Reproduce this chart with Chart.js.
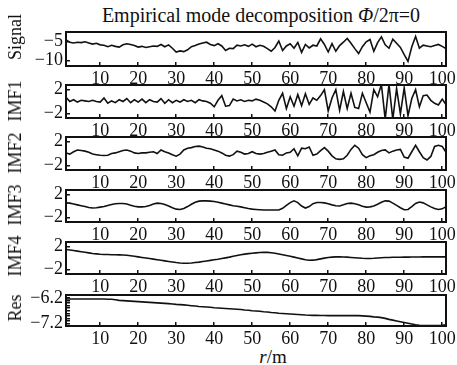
<!DOCTYPE html>
<html><head><meta charset="utf-8">
<script src="https://cdn.jsdelivr.net/npm/chart.js@4"></script>
<style>
body{margin:0;background:#fff;}
#wrap{position:relative;width:457px;height:365px;overflow:hidden;background:#fff;font-family:"Liberation Serif",serif;color:#111;}
canvas.p{position:absolute;left:0;}
.lbl{position:absolute;white-space:nowrap;transform:translate(-50%,-50%);line-height:1;}
.rot{transform:translate(-50%,-50%) rotate(-90deg);}
</style></head>
<body><div id="wrap">
<div class="lbl" id="title" style="left:261px;top:15px;font-size:20px;">Empirical mode decomposition <i>Φ</i>/2π=0</div>
<div class="lbl" style="left:273px;top:356px;font-size:19px;"><i>r</i>/m</div>
</div>
<script>
const rPositions = [1,2,3,4,5,6,7,8,9,10,11,12,13,14,15,16,17,18,19,20,21,22,23,24,25,26,27,28,29,30,31,32,33,34,35,36,37,38,39,40,41,42,43,44,45,46,47,48,49,50,51,52,53,54,55,56,57,58,59,60,61,62,63,64,65,66,67,68,69,70,71,72,73,74,75,76,77,78,79,80,81,82,83,84,85,86,87,88,89,90,91,92,93,94,95,96,97,98,99,100,101];
const xTicks = [10,20,30,40,50,60,70,80,90,100];
const panelNames = ["Signal","IMF1","IMF2","IMF3","IMF4","Res"];

const signal = [-4.6,-5.2,-5.4,-5.2,-5.3,-5.1,-5.4,-5.7,-5.5,-5.9,-6.0,-6.4,-6.0,-6.3,-6.5,-5.9,-5.6,-5.8,-6.1,-6.5,-6.3,-6.6,-6.4,-6.2,-6.3,-5.8,-6.4,-5.9,-6.8,-7.8,-7.5,-7.7,-7.2,-6.4,-6.1,-5.7,-5.4,-5.2,-5.8,-6.1,-5.6,-6.2,-7.4,-6.8,-6.9,-6.0,-6.2,-5.9,-6.3,-5.7,-6.4,-6.0,-6.3,-6.9,-7.6,-6.6,-4.9,-7.4,-6.2,-5.6,-6.8,-5.3,-7.9,-5.8,-6.7,-6.0,-6.2,-4.3,-5.8,-7.8,-5.6,-7.6,-6.1,-5.2,-4.2,-5.5,-6.9,-8.2,-6.4,-5.1,-4.5,-7.6,-5.3,-3.8,-5.9,-6.8,-4.4,-5.5,-6.6,-8.5,-10.3,-6.4,-3.7,-6.8,-6.0,-6.2,-6.4,-6.1,-5.8,-6.3,-6.9];
const imf1 = [0.7,0.0,0.3,-0.1,0.2,0.1,0.0,0.2,0.0,-0.1,0.6,-0.3,0.1,-0.2,0.3,0.0,0.5,-0.2,0.3,-0.1,0.4,-0.2,0.3,0.0,-0.1,0.5,-0.3,0.3,-0.2,0.2,-0.1,0.3,0.0,0.2,-0.2,0.3,0.1,0.0,-0.3,-0.9,0.2,1.0,-0.8,-0.7,0.4,0.1,0.3,0.0,0.2,0.1,0.4,0.2,-0.1,-0.4,-0.9,-1.6,0.2,1.4,-1.2,0.8,-0.8,1.2,-0.7,1.3,-0.5,0.6,0.2,1.0,2.0,-1.6,0.6,2.0,-1.5,1.7,-1.2,1.4,-1.0,-1.2,1.4,-0.2,-1.8,2.0,0.8,2.9,-3.0,2.9,-3.0,2.2,-2.1,2.3,-2.4,0.5,2.0,-0.9,1.0,1.1,0.2,-0.3,-0.6,0.4,-0.5];
const imf2 = [0.1,-0.1,0.3,0.6,0.5,0.4,0.2,-0.1,-0.2,-0.3,-0.35,-0.3,0.0,0.1,0.3,0.5,0.6,0.4,0.1,0.0,0.1,0.1,0.2,0.3,0.0,0.6,0.3,0.1,-0.2,-0.45,-0.1,0.6,0.9,1.0,1.2,1.25,1.1,0.9,0.8,0.6,0.4,0.1,-0.3,-0.45,-0.2,0.4,0.2,-0.1,0.0,0.3,0.0,-0.1,0.0,0.2,0.4,0.6,-0.2,-0.3,0.1,0.2,0.8,-0.4,0.9,0.8,1.1,-0.3,-0.1,0.5,1.0,0.4,-0.4,-0.9,-1.0,-0.9,-0.3,0.7,1.4,0.9,-0.2,-0.7,-0.4,-0.2,0.2,0.5,0.6,0.1,0.4,0.6,0.7,-0.6,-0.8,0.3,1.4,0.3,-0.7,-1.1,-0.5,1.2,1.4,1.2,0.2];
const imf3 = [0.55,0.5,0.35,0.2,0.05,-0.1,-0.25,-0.35,-0.3,-0.2,-0.1,0.1,0.25,0.4,0.45,0.45,0.35,0.15,-0.05,-0.15,-0.15,-0.1,0.1,0.35,0.5,0.45,0.25,0.0,-0.3,-0.55,-0.6,-0.45,-0.1,0.3,0.65,0.85,0.9,0.9,0.85,0.8,0.65,0.5,0.35,0.2,0.05,-0.05,-0.15,-0.3,-0.45,-0.55,-0.6,-0.65,-0.7,-0.7,-0.7,-0.7,-0.7,-0.4,0.1,0.6,0.9,0.6,0.0,-0.35,-0.1,0.4,0.6,0.6,0.55,0.4,0.2,0.05,0.0,0.2,0.45,0.5,0.4,0.2,-0.05,-0.2,-0.15,0.0,0.3,0.65,0.9,0.85,0.5,0.1,-0.3,-0.65,-0.6,-0.1,0.45,0.7,0.55,0.2,-0.15,-0.45,-0.6,-0.5,-0.1];
const imf4 = [1.5,1.4,1.3,1.2,1.1,1.0,0.9,0.8,0.72,0.65,0.62,0.6,0.58,0.56,0.55,0.52,0.48,0.4,0.3,0.2,0.1,0.0,-0.1,-0.2,-0.3,-0.4,-0.5,-0.6,-0.7,-0.8,-0.88,-0.92,-0.92,-0.88,-0.8,-0.72,-0.62,-0.52,-0.42,-0.32,-0.22,-0.1,0.02,0.15,0.3,0.45,0.58,0.68,0.76,0.84,0.9,0.96,1.0,0.98,0.92,0.82,0.7,0.58,0.45,0.3,0.15,0.0,-0.15,-0.3,-0.4,-0.38,-0.28,-0.15,-0.02,0.08,0.15,0.2,0.2,0.18,0.15,0.1,0.05,0.0,-0.05,-0.08,-0.08,-0.05,0.0,0.05,0.08,0.1,0.12,0.13,0.14,0.15,0.16,0.17,0.18,0.18,0.19,0.19,0.2,0.2,0.2,0.2,0.2];
const residue = [-6.24,-6.24,-6.24,-6.24,-6.24,-6.24,-6.24,-6.24,-6.24,-6.24,-6.24,-6.245,-6.25,-6.27,-6.29,-6.30,-6.31,-6.32,-6.33,-6.34,-6.35,-6.36,-6.37,-6.38,-6.39,-6.40,-6.41,-6.42,-6.435,-6.45,-6.46,-6.47,-6.485,-6.50,-6.515,-6.53,-6.54,-6.55,-6.565,-6.58,-6.59,-6.60,-6.61,-6.62,-6.63,-6.64,-6.65,-6.67,-6.68,-6.70,-6.71,-6.72,-6.74,-6.75,-6.77,-6.78,-6.80,-6.81,-6.82,-6.83,-6.84,-6.85,-6.86,-6.87,-6.875,-6.88,-6.88,-6.885,-6.885,-6.89,-6.89,-6.89,-6.89,-6.89,-6.89,-6.89,-6.89,-6.89,-6.90,-6.91,-6.92,-6.94,-6.95,-6.97,-7.0,-7.04,-7.07,-7.10,-7.13,-7.16,-7.19,-7.22,-7.25,-7.27,-7.28,-7.28,-7.28,-7.28,-7.28,-7.275,-7.25];

const signalTicks = [-10,-5], signalTickLabels = ["\u221210","\u22125"];
const imfTicks = [-2,2], imfTickLabels = ["\u22122","2"];
const resTicks = [-7.2,-7.1,-7.0,-6.9,-6.8,-6.7,-6.6,-6.5,-6.4,-6.3,-6.2];
const resTickLabels = ["\u22127.2","","","","","","","","","","\u22126.2"];

const FONT = '"Liberation Serif", "Times New Roman", serif';
Chart.defaults.font.family = FONT;
const INK = '#111';
const wrap = document.getElementById('wrap');

const panels = [
  {name:panelNames[0], values:signal, min:-11.5, max:-2.5, ticks:signalTicks, labels:signalTickLabels, top:32, bottom:66, labelY:37},
  {name:panelNames[1], values:imf1, min:-2.8, max:2.8, ticks:imfTicks, labels:imfTickLabels, top:85, bottom:118, labelY:101},
  {name:panelNames[2], values:imf2, min:-2.8, max:2.8, ticks:imfTicks, labels:imfTickLabels, top:137, bottom:170, labelY:153},
  {name:panelNames[3], values:imf3, min:-2.8, max:2.8, ticks:imfTicks, labels:imfTickLabels, top:190, bottom:222, labelY:205},
  {name:panelNames[4], values:imf4, min:-2.8, max:2.8, ticks:imfTicks, labels:imfTickLabels, top:242, bottom:274, labelY:256},
  {name:panelNames[5], values:residue, min:-7.3, max:-6.08, ticks:resTicks, labels:resTickLabels, top:295, bottom:326, labelY:308}
];

const boxPlugin = {
  id:'box',
  afterDraw(chart){
    const a = chart.chartArea, ctx = chart.ctx;
    ctx.save();
    ctx.strokeStyle = INK; ctx.lineWidth = 2;
    ctx.strokeRect(a.left, a.top, a.right - a.left, a.bottom - a.top);
    ctx.restore();
  }
};

const charts = [];
panels.forEach(p => {
  const padTop = 14, xH = 28;
  const h = (p.bottom - p.top) + padTop + xH;
  const c = document.createElement('canvas');
  c.className = 'p';
  c.width = 457; c.height = h;
  c.style.top = (p.top - padTop) + 'px';
  c.style.width = '457px'; c.style.height = h + 'px';
  wrap.appendChild(c);

  const yl = document.createElement('div');
  yl.className = 'lbl rot';
  yl.style.left = '15px'; yl.style.top = p.labelY + 'px'; yl.style.fontSize = '18px';
  yl.textContent = p.name;
  wrap.appendChild(yl);

  charts.push(new Chart(c, {
    type:'line',
    data:{datasets:[{
      data:p.values.map((v,i)=>({x:rPositions[i], y:v})),
      borderColor:INK, borderWidth:1.6, pointRadius:0, tension:0, fill:false
    }]},
    options:{
      responsive:false, animation:false, events:[],
      layout:{padding:{top:padTop, right:11, left:0, bottom:0}},
      plugins:{legend:{display:false}, tooltip:{enabled:false}, title:{display:false}},
      scales:{
        x:{
          type:'linear', min:1, max:101,
          afterBuildTicks:s=>{ s.ticks = xTicks.map(v=>({value:v})); },
          afterFit:s=>{ s.height = xH; s.paddingLeft = 0; s.paddingRight = 0; s.paddingTop = 0; s.paddingBottom = 0; },
          grid:{drawOnChartArea:false, drawTicks:true, tickLength:-4, color:INK, lineWidth:1.5},
          border:{display:false},
          ticks:{padding:6, color:INK, autoSkip:false, maxRotation:0, font:{family:FONT, size:18}, callback:v=>String(v)}
        },
        y:{
          type:'linear', min:p.min, max:p.max,
          afterBuildTicks:s=>{ s.ticks = p.ticks.map(v=>({value:v})); },
          afterFit:s=>{ s.width = 66; s.paddingTop = 0; s.paddingBottom = 0; s.paddingLeft = 0; s.paddingRight = 0; },
          grid:{drawOnChartArea:false, drawTicks:true, tickLength:-4, color:INK, lineWidth:1.5},
          border:{display:false},
          ticks:{padding:7, color:INK, autoSkip:false, font:{family:FONT, size:18}, callback:(v,i)=>p.labels[i]}
        }
      }
    },
    plugins:[boxPlugin]
  }));
});
function redraw(){ charts.forEach(ch => ch.update('none')); }
if (document.fonts) {
  document.fonts.load('18px "Liberation Serif"').then(redraw);
  document.fonts.ready.then(redraw);
}
setTimeout(redraw, 50);
</script>
</body></html>
